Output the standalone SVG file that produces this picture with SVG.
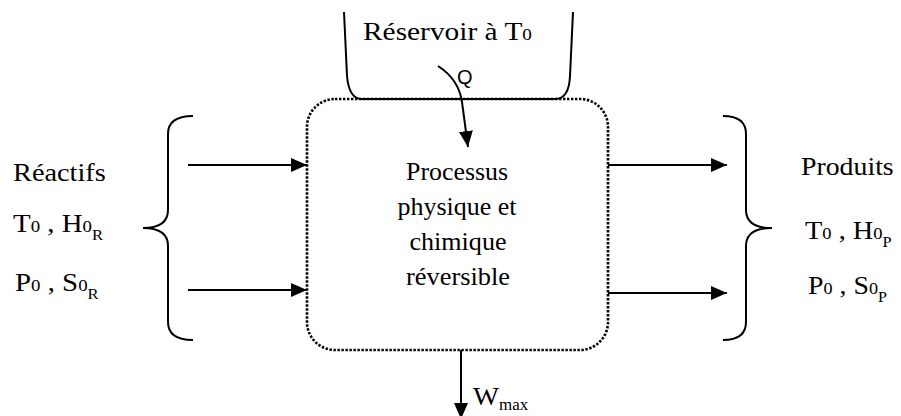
<svg xmlns="http://www.w3.org/2000/svg" width="901" height="416" viewBox="0 0 901 416">
<style>
.t{font-family:"Liberation Serif","Times New Roman",serif;font-size:26px;fill:#000}
.c{font-size:25px}
.s{font-size:17px}
.ss{font-size:15px}
.q{font-family:"Liberation Sans",Arial,sans-serif;font-size:20px;fill:#000}
.ln{fill:none;stroke:#000;stroke-width:2}
.dot{fill:none;stroke:#000;stroke-width:2.6;stroke-dasharray:2.4 1.6}
</style>
<defs>
<marker id="ah" markerUnits="userSpaceOnUse" markerWidth="17" markerHeight="15" refX="16" refY="7" orient="auto">
<path d="M0,0 L16,7 L0,14 z" fill="#000"/>
</marker>
</defs>
<rect width="901" height="416" fill="#fff"/>
<g id="reservoir">
<path class="ln" d="M344,12 L347,76 Q349,99 362,99 L555,99 Q569,99 570,76 L573,12"/>
<text class="t" transform="translate(363,40) scale(1.13,1)">Réservoir à T<tspan class="s">0</tspan></text>
</g>
<g id="processus">
<rect class="dot" x="307" y="99" width="301" height="251" rx="28" ry="28"/>
<text class="t c" text-anchor="middle" x="457" y="180" textLength="102" lengthAdjust="spacingAndGlyphs">Processus</text>
<text class="t c" text-anchor="middle" x="457" y="215" textLength="119" lengthAdjust="spacingAndGlyphs">physique et</text>
<text class="t c" text-anchor="middle" x="458" y="250" textLength="97" lengthAdjust="spacingAndGlyphs">chimique</text>
<text class="t c" text-anchor="middle" x="458" y="285" textLength="104" lengthAdjust="spacingAndGlyphs">réversible</text>
</g>
<g id="reactifs">
<path class="ln" d="M193,116 Q168,116 168,134 L168,210 Q168,228 143,228 Q168,228 168,246 L168,322 Q168,340 193,340"/>
<text class="t" transform="translate(13,181) scale(1.09,1)">Réactifs</text>
<text class="t" transform="translate(13,232) scale(1.11,1)">T<tspan class="s">0</tspan> , H<tspan class="s">0</tspan><tspan class="ss" dy="8">R</tspan></text>
<text class="t" transform="translate(15,291) scale(1.11,1)">P<tspan class="s">0</tspan> , S<tspan class="s">0</tspan><tspan class="ss" dy="8">R</tspan></text>
</g>
<g id="produits">
<path class="ln" d="M723,116 Q746,116 746,134 L746,210 Q746,228 772,228 Q746,228 746,246 L746,322 Q746,340 723,340"/>
<text class="t" transform="translate(801,175) scale(1.07,1)">Produits</text>
<text class="t" transform="translate(805,239) scale(1.09,1)">T<tspan class="s">0</tspan> , H<tspan class="s">0</tspan><tspan class="ss" dy="8">P</tspan></text>
<text class="t" transform="translate(808,294) scale(1.07,1)">P<tspan class="s">0</tspan> , S<tspan class="s">0</tspan><tspan class="ss" dy="8">P</tspan></text>
</g>
<g id="connectors">
<path class="ln" marker-end="url(#ah)" d="M188,165 L307,165"/>
<path class="ln" marker-end="url(#ah)" d="M188,290 L307,290"/>
<path class="ln" marker-end="url(#ah)" d="M608,165 L727,165"/>
<path class="ln" marker-end="url(#ah)" d="M608,293 L727,293"/>
<path class="ln" marker-end="url(#ah)" d="M438,66 C452,75 460,88 462,102 L468,147"/>
<path class="ln" marker-end="url(#ah)" d="M461,350 L461,419"/>
<text class="q" x="457" y="84">Q</text>
<text class="t" transform="translate(473,405) scale(1.06,1)">W<tspan font-size="16" dy="5">max</tspan></text>
</g>
</svg>
